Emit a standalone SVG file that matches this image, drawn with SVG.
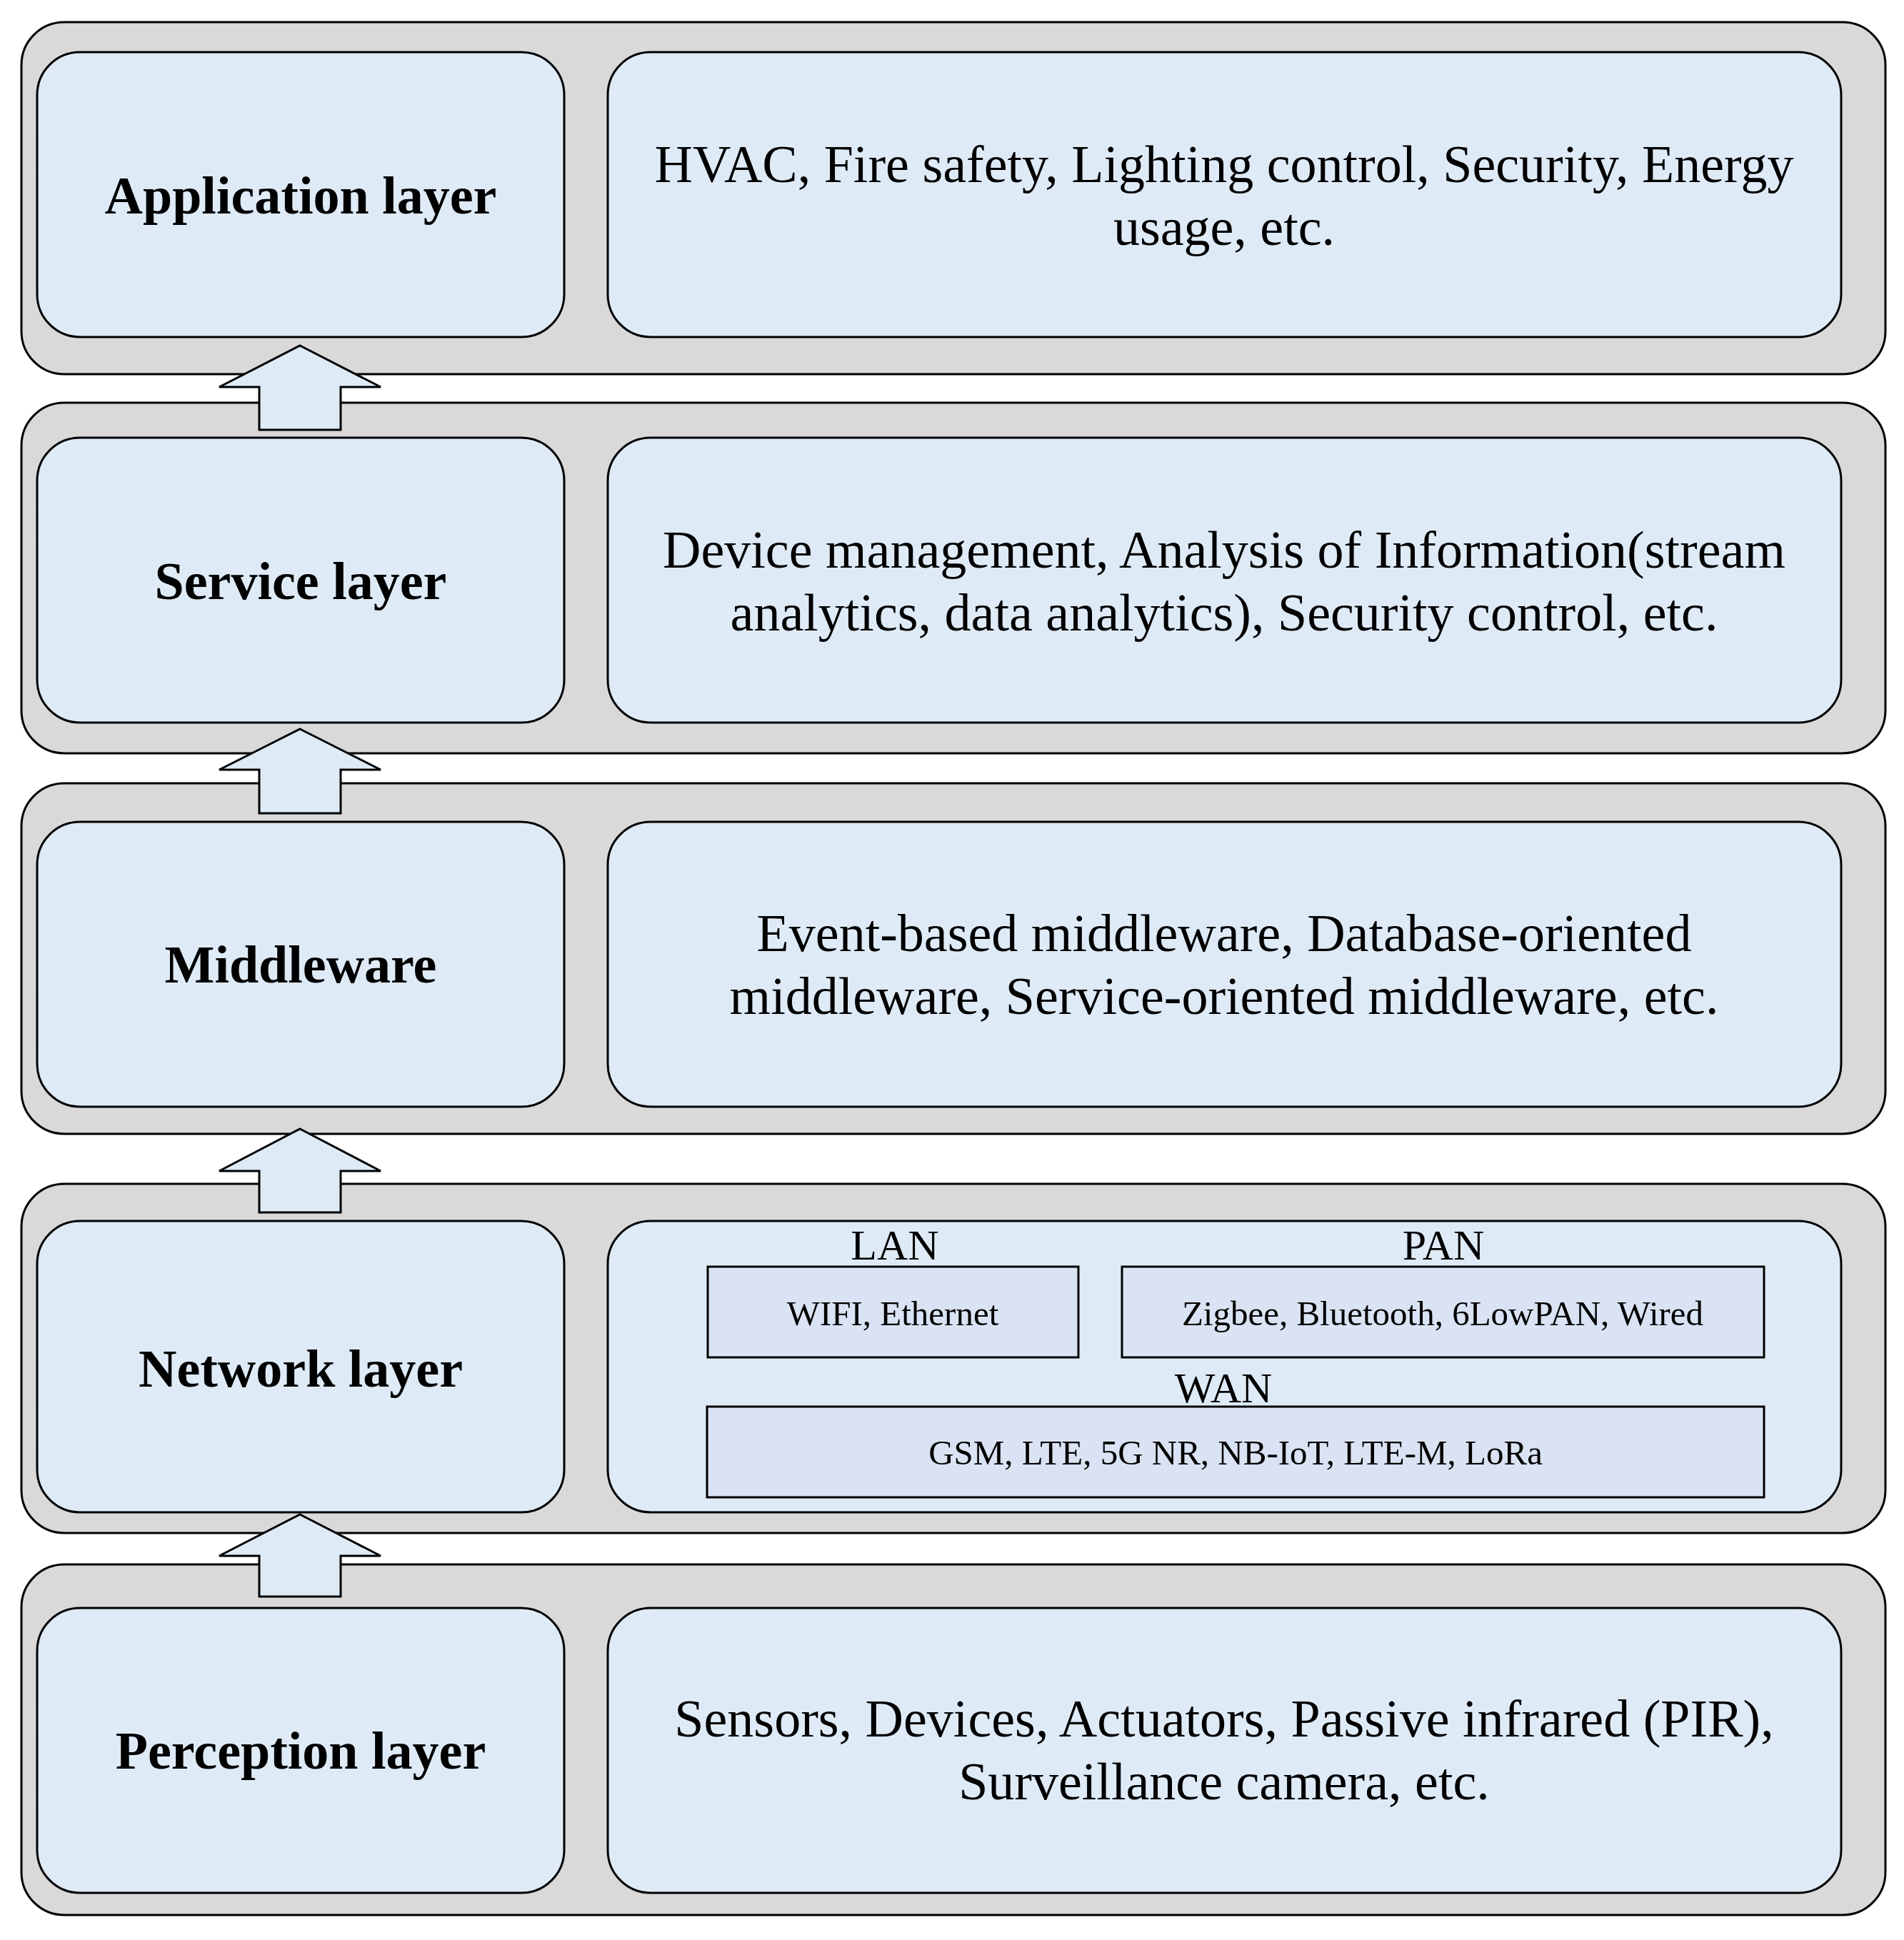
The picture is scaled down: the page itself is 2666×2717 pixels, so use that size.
<svg xmlns="http://www.w3.org/2000/svg" width="2666" height="2717" viewBox="0 0 2666 2717">
<style>
.band{fill:#d9d9d9;stroke:#000;stroke-width:3}
.box{fill:#deebf7;stroke:#000;stroke-width:3}
.sub{fill:#dae3f3;stroke:#000;stroke-width:3}
.arr{fill:#deebf7;stroke:#000;stroke-width:3}
.lbl{font-family:"Liberation Serif",serif;font-weight:bold;font-size:74px;text-anchor:middle}
.txt{font-family:"Liberation Serif",serif;font-size:74px;text-anchor:middle}
.sm{font-family:"Liberation Serif",serif;font-size:49px;text-anchor:middle}
.hd{font-family:"Liberation Serif",serif;font-size:60px;text-anchor:middle}
</style>
<rect width="2666" height="2717" fill="#fff"/>
<g id="application">
<rect class="band" x="30" y="31" width="2610" height="493" rx="60"/>
<rect class="box" x="52" y="73" width="738" height="399" rx="60"/>
<text class="lbl" x="421" y="299">Application layer</text>
<rect class="box" x="851" y="73" width="1727" height="399" rx="60"/>
<text class="txt" x="1714" y="255">HVAC, Fire safety, Lighting control, Security, Energy</text>
<text class="txt" x="1714" y="343">usage, etc.</text>
</g>
<g id="service">
<rect class="band" x="30" y="564" width="2610" height="491" rx="60"/>
<rect class="box" x="52" y="613" width="738" height="399" rx="60"/>
<text class="lbl" x="421" y="839">Service layer</text>
<rect class="box" x="851" y="613" width="1727" height="399" rx="60"/>
<text class="txt" x="1714" y="795">Device management, Analysis of Information(stream</text>
<text class="txt" x="1714" y="883">analytics, data analytics), Security control, etc.</text>
</g>
<g id="middleware">
<rect class="band" x="30" y="1097" width="2610" height="491" rx="60"/>
<rect class="box" x="52" y="1151" width="738" height="399" rx="60"/>
<text class="lbl" x="421" y="1376">Middleware</text>
<rect class="box" x="851" y="1151" width="1727" height="399" rx="60"/>
<text class="txt" x="1714" y="1332">Event-based middleware, Database-oriented</text>
<text class="txt" x="1714" y="1420">middleware, Service-oriented middleware, etc.</text>
</g>
<g id="network">
<rect class="band" x="30" y="1658" width="2610" height="489" rx="60"/>
<rect class="box" x="52" y="1710" width="738" height="408" rx="60"/>
<text class="lbl" x="421" y="1942">Network layer</text>
<rect class="box" x="851" y="1710" width="1727" height="408" rx="60"/>
<text class="hd" x="1253" y="1764">LAN</text>
<text class="hd" x="2021" y="1764">PAN</text>
<text class="hd" x="1713" y="1964">WAN</text>
<rect class="sub" x="991" y="1774" width="519" height="127"/>
<text class="sm" x="1250" y="1856">WIFI, Ethernet</text>
<rect class="sub" x="1571" y="1774" width="899" height="127"/>
<text class="sm" x="2020" y="1856">Zigbee, Bluetooth, 6LowPAN, Wired</text>
<rect class="sub" x="990" y="1970" width="1480" height="127"/>
<text class="sm" x="1730" y="2051">GSM, LTE, 5G NR, NB-IoT, LTE-M, LoRa</text>
</g>
<g id="perception">
<rect class="band" x="30" y="2191" width="2610" height="491" rx="60"/>
<rect class="box" x="52" y="2252" width="738" height="399" rx="60"/>
<text class="lbl" x="421" y="2477">Perception layer</text>
<rect class="box" x="851" y="2252" width="1727" height="399" rx="60"/>
<text class="txt" x="1714" y="2432">Sensors, Devices, Actuators, Passive infrared (PIR),</text>
<text class="txt" x="1714" y="2520">Surveillance camera, etc.</text>
</g>
<g id="connectors">
<polygon class="arr" points="420,484 533,542 477,542 477,602 363,602 363,542 307,542"/>
<polygon class="arr" points="420,1021 533,1078 477,1078 477,1139 363,1139 363,1078 307,1078"/>
<polygon class="arr" points="420,1581 533,1640 477,1640 477,1698 363,1698 363,1640 307,1640"/>
<polygon class="arr" points="420,2121 533,2179 477,2179 477,2236 363,2236 363,2179 307,2179"/>
</g>
</svg>
